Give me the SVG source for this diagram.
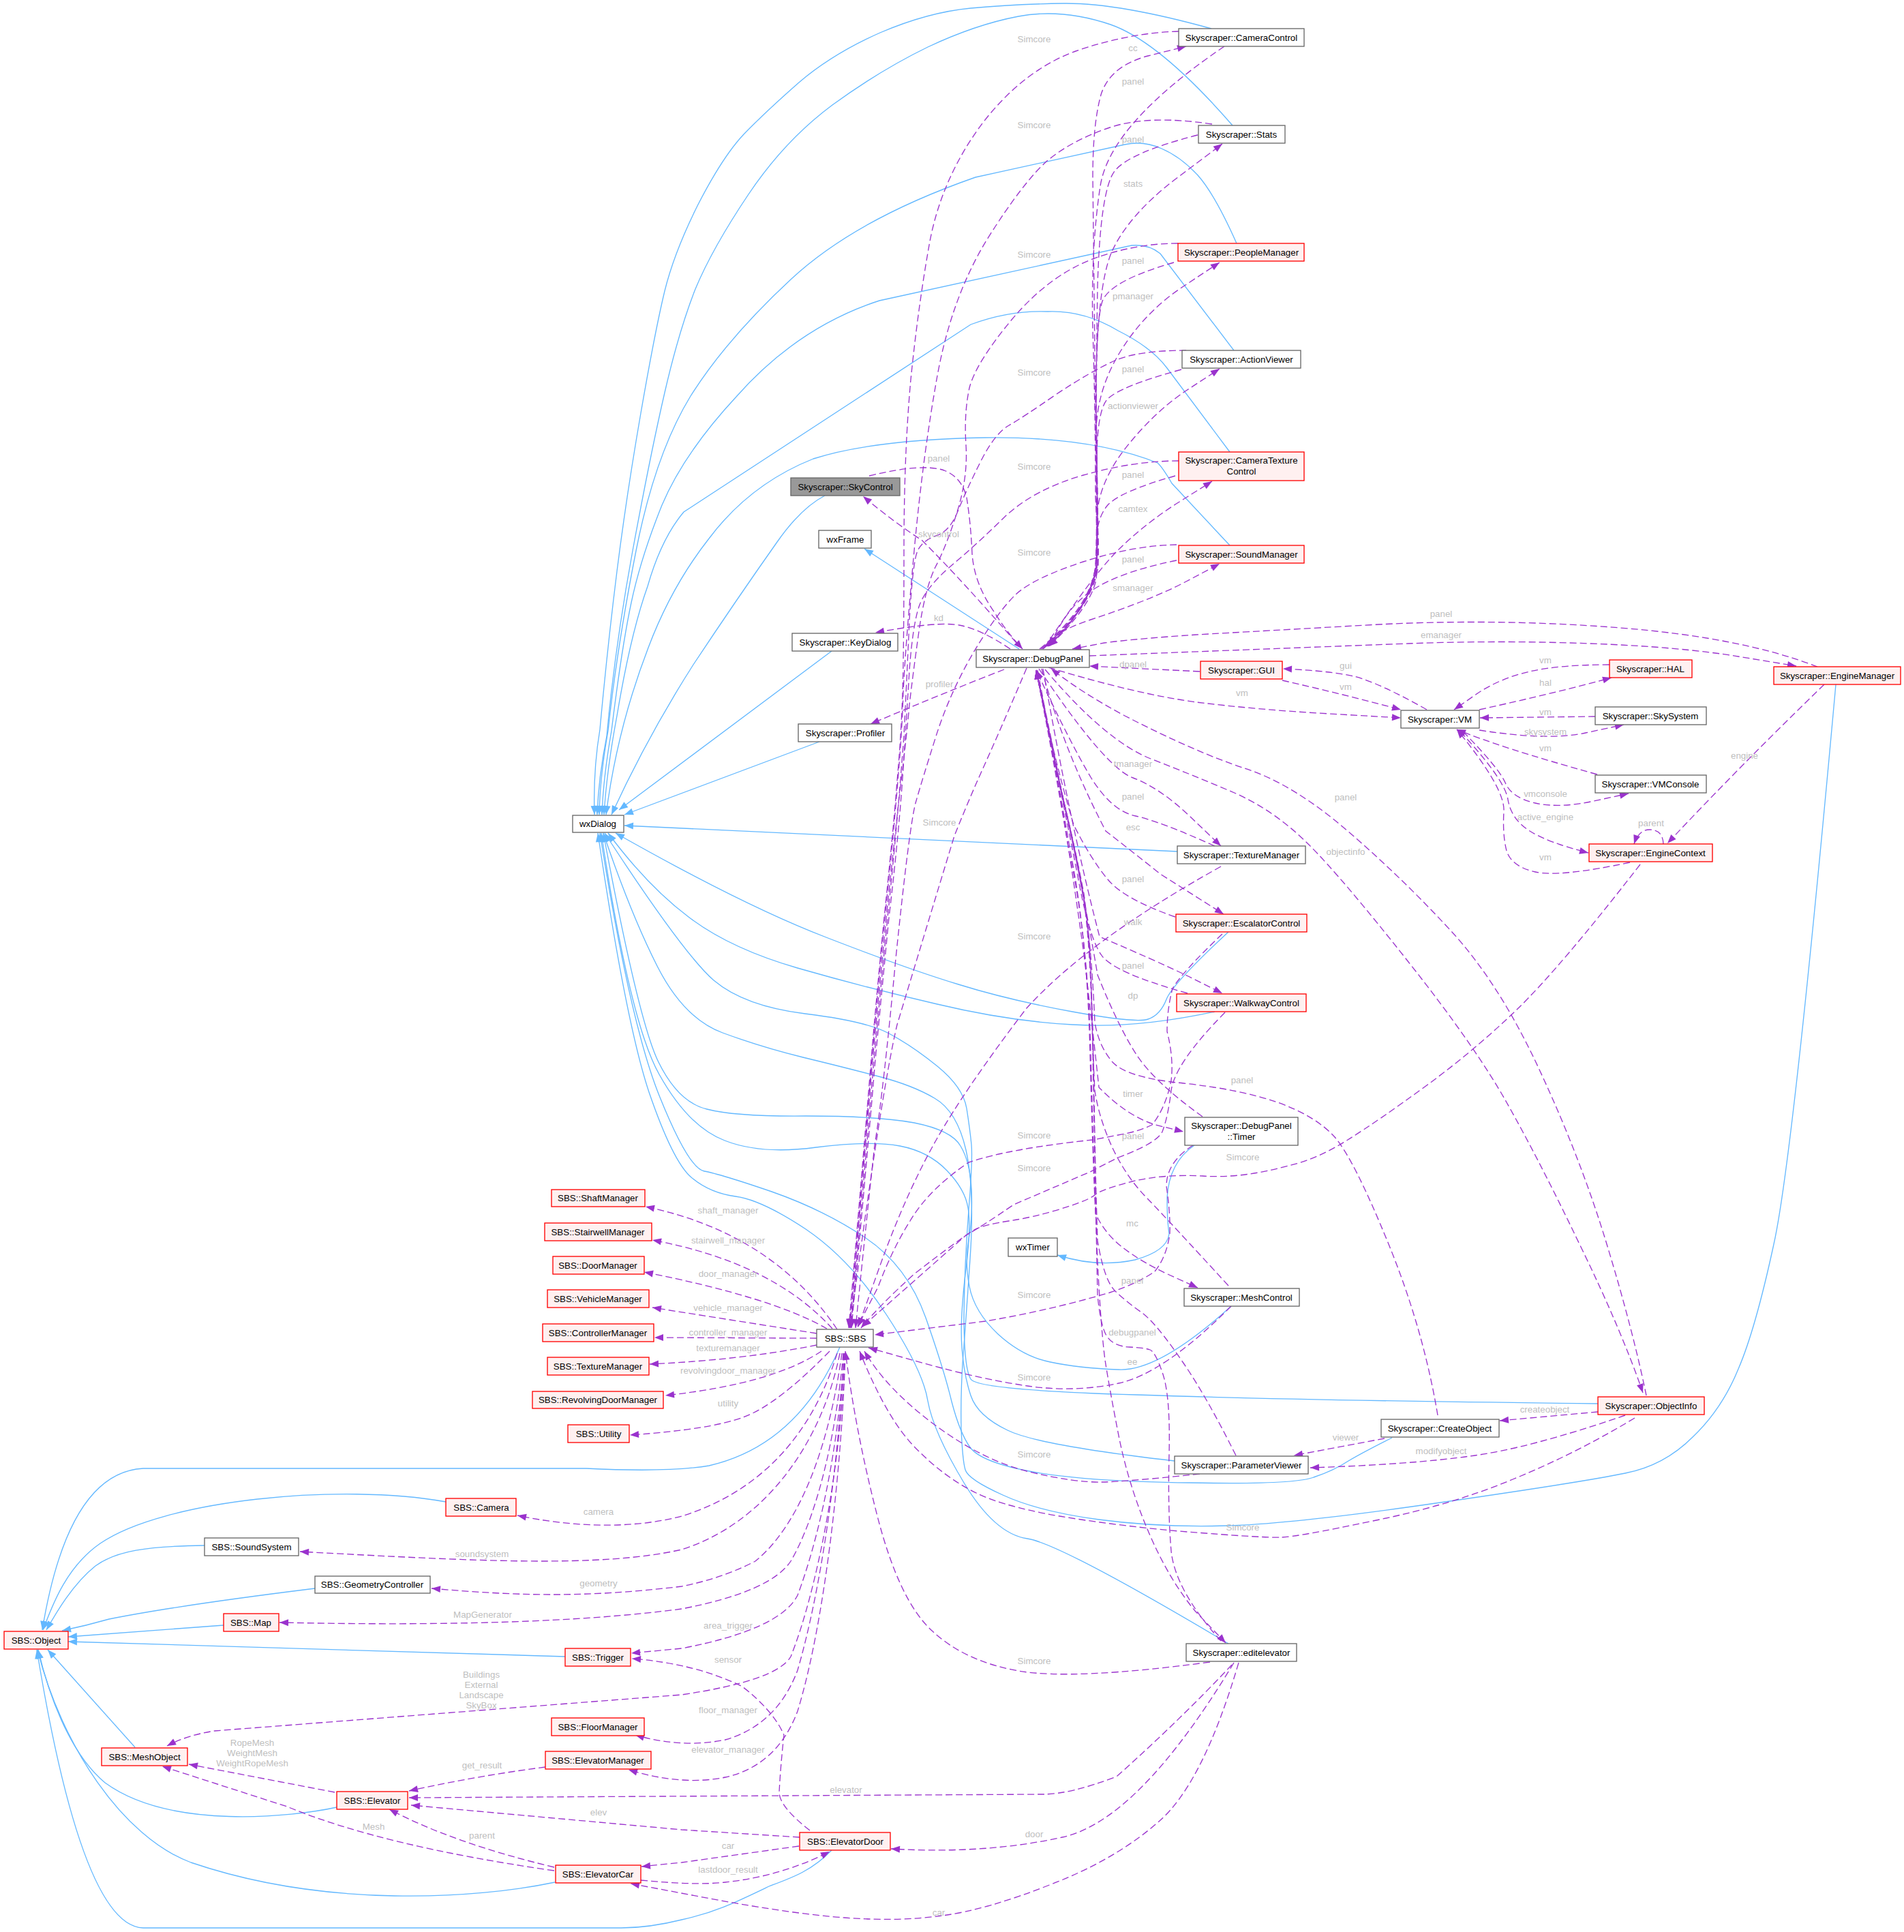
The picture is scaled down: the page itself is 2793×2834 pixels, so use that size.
<svg xmlns="http://www.w3.org/2000/svg" width="2793" height="2834" viewBox="0 0 2793 2834">
<style>
text{font-family:"Liberation Sans",Arial,sans-serif;font-size:13.33px;text-anchor:middle}
.n rect{fill:#fff;stroke:#666;stroke-width:1.33}
.r rect{fill:#fff0f0;stroke:#f00;stroke-width:1.33}
.g rect{fill:#999;stroke:#666;stroke-width:1.33}
.l text{fill:#bebebe}
.b,.p{fill:none;stroke-width:1.33}
.b{stroke:#63b8ff;marker-end:url(#ab)}
.p{stroke:#9a32cd;stroke-dasharray:10 5;marker-end:url(#ap)}
</style>
<defs>
<marker id="ab" markerUnits="userSpaceOnUse" markerWidth="16" markerHeight="12" refX="14" refY="6" orient="auto"><path d="M1,1 L14,6 L1,11z" fill="#63b8ff"/></marker>
<marker id="ap" markerUnits="userSpaceOnUse" markerWidth="16" markerHeight="12" refX="14" refY="6" orient="auto"><path d="M1,1 L14,6 L1,11z" fill="#9a32cd"/></marker>
</defs>
<rect width="2793" height="2834" fill="#fff"/>
<g id="connectors">
<path class="b" d="M1777,42 Q1640,4 1560,5 Q1487,6 1424,12 Q1361,18 1291,48 Q1221,79 1172,121 Q1123,164 1091,197 Q1060,230 1024,300 Q989,370 975,427 Q961,485 940,606 Q919,727 905,838 Q891,950 880,1070 Q870,1130 872,1195"/>
<path class="b" d="M1808,184 Q1701,61 1629,36 Q1558,12 1494,24 Q1431,36 1361,69 Q1291,103 1221,154 Q1151,206 1098,285 Q1045,364 1020,424 Q996,485 975,576 Q954,667 928,808 Q902,950 890,1080 Q878,1140 876,1195"/>
<path class="b" d="M1814,357 Q1782,285 1757,257 Q1732,230 1704,218 Q1677,206 1650,212 L1431,260 Q1256,321 1161,409 Q1066,497 1013,581 Q961,666 933,808 Q905,950 892,1072 Q880,1140 879,1195"/>
<path class="b" d="M1810,514 L1702,372 Q1685,358 1660,360 L1290,441 Q1170,480 1080,582 Q1003,665 971,741 Q940,818 926,884 Q912,950 897,1072 Q885,1140 883,1195"/>
<path class="b" d="M1804,663 L1712,540 Q1690,510 1640,485 Q1590,455 1537,457 Q1480,455 1424,476 L1003,751 Q970,790 950,860 Q925,930 905,1050 Q890,1130 886,1195"/>
<path class="b" d="M1804,800 L1719,709 Q1705,685 1698,679 Q1600,640 1445,642 Q1280,645 1193,673 Q1100,710 1040,790 Q985,860 951,950 Q905,1070 889,1195"/>
<path class="b" d="M1210,727 Q1175,745 1140,795 Q1080,880 1017,975 Q950,1080 897,1195"/>
<path class="b" d="M1220,955 L908,1188"/>
<path class="b" d="M1202,1088 L916,1195"/>
<path class="b" d="M1727,1249 L916,1211"/>
<path class="b" d="M1495,952 L1268,805"/>
<path class="b" d="M1802,1367 Q1720,1443 1711,1466 Q1702,1489 1684,1495 Q1666,1501 1573,1484 Q1480,1467 1406,1444 Q1333,1422 1212,1375 Q1092,1329 903,1222"/>
<path class="b" d="M1782,1484 Q1666,1509 1573,1503 Q1480,1498 1375,1473 Q1271,1449 1170,1420 Q1070,1391 1010,1345 Q950,1300 892,1222"/>
<path class="b" d="M2344,2059 Q1900,2054 1667,2046 Q1434,2039 1424,2023 Q1414,2007 1414,1929 Q1415,1851 1421,1775 Q1427,1700 1425,1679 Q1423,1658 1418,1626 Q1413,1595 1375,1564 Q1338,1534 1304,1516 Q1271,1498 1181,1487 Q1092,1476 1047,1438 Q1003,1400 887,1222"/>
<path class="b" d="M2693,1004 Q2630,1700 2602,1825 Q2575,1950 2550,2008 Q2526,2067 2483,2108 Q2441,2150 2384,2161 Q2327,2173 2113,2204 Q1900,2235 1801,2238 Q1702,2241 1612,2229 Q1523,2217 1471,2193 Q1420,2170 1416,2156 Q1412,2143 1410,2096 Q1409,2050 1412,2000 Q1416,1950 1423,1847 Q1430,1745 1417,1687 Q1404,1630 1371,1611 Q1339,1592 1289,1579 Q1240,1566 1178,1551 Q1117,1536 1060,1515 Q1003,1494 964,1417 Q925,1340 885,1222"/>
<path class="b" d="M1806,1916 Q1700,2012 1641,2009 Q1583,2007 1541,1998 Q1500,1990 1464,1957 Q1429,1924 1422,1887 Q1415,1851 1421,1818 Q1427,1785 1425,1744 Q1423,1704 1409,1681 Q1396,1658 1341,1647 Q1286,1637 1182,1637 Q1079,1638 1037,1627 Q995,1617 966,1558 Q937,1500 885,1222"/>
<path class="b" d="M1723,2143 Q1523,2120 1478,2098 Q1434,2077 1424,2047 Q1414,2017 1411,1977 Q1408,1938 1416,1869 Q1425,1800 1420,1772 Q1416,1745 1389,1717 Q1362,1689 1320,1681 Q1278,1673 1197,1683 Q1117,1694 1063,1673 Q1010,1653 967,1576 Q924,1500 882,1222"/>
<path class="b" d="M2042,2109 Q2000,2130 1978,2143 Q1957,2157 1927,2167 Q1898,2178 1745,2175 Q1592,2173 1515,2159 Q1439,2145 1423,2123 Q1408,2102 1396,2056 Q1385,2010 1358,1933 Q1331,1857 1270,1816 Q1209,1775 1132,1748 Q1056,1722 1033,1718 Q1010,1714 967,1607 Q924,1500 880,1222"/>
<path class="b" d="M1802,2411 Q1555,2264 1507,2257 Q1459,2250 1414,2175 Q1369,2100 1361,2055 Q1354,2010 1300,1928 Q1247,1847 1182,1803 Q1117,1760 1079,1755 Q1041,1750 1014,1727 Q987,1704 952,1602 Q918,1500 877,1222"/>
<path class="b" d="M1752,1680 Q1715,1705 1712,1757 Q1712,1790 1715,1810 Q1712,1835 1665,1848 Q1610,1860 1551,1841"/>
<path class="b" d="M1232,1976 Q1170,2120 1040,2150 Q980,2160 860,2154 L210,2154 Q100,2160 62,2391"/>
<path class="b" d="M654,2203 C500,2175 240,2200 147,2264 C95,2300 75,2360 63,2391"/>
<path class="b" d="M300,2267 C215,2268 170,2275 140,2297 C105,2325 80,2370 68,2391"/>
<path class="b" d="M462,2330 Q260,2355 160,2375 Q125,2385 91,2392"/>
<path class="b" d="M328,2384 L100,2401"/>
<path class="b" d="M829,2430 L100,2408"/>
<path class="b" d="M198,2563 L70,2420"/>
<path class="b" d="M494,2651 C430,2665 250,2685 154,2615 C100,2570 70,2480 56,2420"/>
<path class="b" d="M814,2761 C700,2785 480,2800 280,2732 C180,2695 90,2560 55,2420"/>
<path class="b" d="M1220,2714 C1190,2745 1160,2755 1128,2767 C1080,2790 1050,2805 1000,2816 C960,2826 930,2828 911,2828 L210,2828 C140,2826 90,2640 54,2420"/>

<path class="p" d="M1729,46 Q1656,48 1578,75 Q1501,103 1441,181 Q1382,260 1364,354 Q1347,448 1336,557 Q1326,666 1326,808 Q1326,950 1324,1015 Q1322,1079 1316,1145 Q1311,1212 1297,1346 Q1284,1480 1277,1566 Q1270,1653 1245,1948"/>
<path class="p" d="M1778,182 Q1684,168 1628,187 Q1572,206 1536,236 Q1501,267 1448,351 Q1396,436 1375,551 Q1354,667 1341,808 Q1328,950 1325,1015 Q1323,1079 1317,1145 Q1312,1212 1298,1346 Q1285,1480 1278,1566 Q1271,1653 1246,1948"/>
<path class="p" d="M1728,357 Q1663,357 1600,381 Q1537,406 1484,469 Q1431,533 1422,569 Q1414,606 1417,653 Q1420,700 1404,751 Q1388,802 1372,832 Q1357,863 1348,926 Q1339,990 1334,1034 Q1330,1079 1322,1145 Q1314,1212 1300,1346 Q1287,1480 1279,1566 Q1272,1653 1247,1948"/>
<path class="p" d="M1740,514 Q1670,514 1635,529 Q1600,545 1550,578 Q1501,612 1480,624 Q1459,636 1438,678 Q1417,720 1405,750 Q1393,780 1373,786 Q1353,793 1346,808 Q1339,823 1334,910 Q1330,1000 1326,1079 Q1316,1212 1302,1346 Q1289,1480 1281,1566 Q1274,1653 1248,1948"/>
<path class="p" d="M1729,676 Q1663,676 1589,697 Q1516,718 1473,759 Q1431,800 1394,831 Q1357,863 1348,890 Q1339,917 1334,983 Q1330,1050 1326,1110 Q1320,1212 1304,1346 Q1291,1480 1283,1566 Q1276,1653 1249,1948"/>
<path class="p" d="M1726,799 Q1663,800 1589,824 Q1516,848 1490,872 Q1464,897 1428,957 Q1393,1017 1373,1080 Q1353,1143 1343,1178 Q1334,1212 1314,1406 Q1296,1600 1283,1680 Q1272,1780 1255,1948"/>
<path class="p" d="M1506,980 Q1470,1065 1433,1147 Q1416,1186 1400,1226 Q1358,1364 1316,1503 Q1293,1600 1247,1948"/>
<path class="p" d="M1275,698 Q1353,679 1385,690 Q1411,700 1418,730 Q1424,767 1426,812 Q1429,857 1460,900 Q1475,925 1500,952"/>
<path class="p" d="M1491,943 Q1410,850 1353,793 Q1310,765 1266,728"/>
<path class="p" d="M1482,952 Q1439,923 1407,917 Q1376,911 1284,928"/>
<path class="p" d="M1473,982 Q1393,1013 1277,1062"/>

<path class="p" d="M1796,68 Q1628,182 1614,273 Q1600,364 1603,485 Q1607,606 1607,730 Q1610,780 1608,830 Q1600,890 1535,948"/>
<path class="p" d="M1525,952 Q1600,890 1607,830 Q1610,780 1607,606 L1603,260 Q1603,182 1615,139 Q1628,97 1684,82 L1740,68"/>
<path class="p" d="M1757,198 Q1656,224 1635,251 Q1614,279 1610,420 Q1607,606 1608,730 Q1610,780 1607,830 Q1600,890 1536,948"/>
<path class="p" d="M1527,952 Q1601,890 1609,830 Q1611,780 1608,600 Q1607,424 1631,369 Q1656,315 1724,263 L1793,211"/>
<path class="p" d="M1722,385 Q1628,412 1617,442 Q1607,473 1608,600 Q1611,780 1608,830 Q1600,890 1537,948"/>
<path class="p" d="M1529,952 Q1602,890 1610,830 Q1612,780 1608,640 Q1607,576 1642,518 Q1677,460 1733,422 L1789,385"/>
<path class="p" d="M1733,542 Q1642,567 1624,586 Q1607,606 1609,700 Q1611,780 1609,830 Q1600,890 1538,948"/>
<path class="p" d="M1530,952 Q1603,890 1611,830 Q1612,780 1609,770 Q1607,715 1649,660 Q1691,606 1740,573 L1789,541"/>
<path class="p" d="M1724,698 Q1642,721 1624,742 Q1607,763 1609,800 Q1610,830 1608,850 Q1600,890 1539,948"/>
<path class="p" d="M1532,950 Q1600,848 1638,809 Q1677,770 1727,738 L1778,706"/>
<path class="p" d="M1726,822 Q1628,842 1590,875 Q1560,900 1540,948"/>
<path class="p" d="M1534,948 Q1550,925 1600,909 Q1691,879 1740,853 L1789,827"/>

<path class="p" d="M1760,985 L1598,977"/>
<path class="p" d="M1881,998 Q1969,1018 2055,1041"/>
<path class="p" d="M2093,1041 Q2022,1001 1986,992 Q1951,984 1882,981"/>
<path class="p" d="M1538,979 Q1666,1018 1755,1030 Q1844,1041 1950,1047 L2055,1053"/>
<path class="p" d="M2415,2047 Q2395,1950 2357,1825 Q2319,1700 2259,1571 Q2200,1443 2128,1365 Q2057,1288 1977,1219 Q1897,1150 1826,1127 Q1755,1104 1650,1050 Q1585,1015 1542,981"/>
<path class="p" d="M1533,982 Q1622,1087 1688,1113 Q1755,1139 1813,1164 Q1871,1190 1920,1239 Q1969,1288 2066,1411 Q2164,1535 2210,1617 Q2257,1700 2317,1825 Q2378,1950 2410,2043"/>
<path class="p" d="M1598,962 Q1933,949 2066,944 Q2200,939 2333,944 Q2466,949 2550,963 L2635,977"/>
<path class="p" d="M2666,978 Q2555,935 2377,921 Q2200,907 2022,916 Q1844,926 1755,931 Q1666,937 1620,943 L1573,952"/>
<path class="p" d="M2361,975 Q2288,975 2244,985 Q2200,995 2166,1018 L2133,1041"/>
<path class="p" d="M2170,1041 Q2288,1015 2364,994"/>
<path class="p" d="M2340,1051 L2171,1053"/>
<path class="p" d="M2170,1071 Q2271,1087 2326,1075 L2382,1063"/>
<path class="p" d="M2343,1136 Q2199,1096 2137,1070"/>
<path class="p" d="M2146,1073 Q2199,1127 2208,1148 Q2217,1170 2252,1178 Q2288,1186 2338,1175 L2389,1164"/>
<path class="p" d="M2142,1073 Q2208,1144 2212,1173 Q2217,1202 2244,1219 Q2271,1236 2330,1251"/>
<path class="p" d="M2391,1265 Q2288,1287 2252,1279 Q2217,1271 2210,1248 Q2204,1225 2206,1190 Q2208,1156 2137,1070"/>
<path class="p" d="M2440,1238 Q2439,1217 2420,1217 Q2404,1217 2397,1238"/>
<path class="p" d="M2676,1004 Q2555,1121 2446,1237"/>

<path class="p" d="M1524,981 Q1622,1127 1662,1141 Q1702,1156 1746,1198 L1791,1241"/>
<path class="p" d="M1782,1241 Q1702,1205 1666,1197 Q1631,1190 1600,1140 Q1570,1090 1520,983"/>
<path class="p" d="M1528,981 Q1560,1100 1622,1219 Q1662,1250 1702,1282 L1795,1341"/>
<path class="p" d="M1724,1345 Q1649,1319 1625,1290 Q1600,1260 1575,1210 Q1545,1110 1520,983"/>
<path class="p" d="M1530,981 Q1570,1210 1613,1374 Q1693,1408 1743,1432 L1793,1457"/>
<path class="p" d="M1742,1457 Q1631,1426 1615,1400 Q1597,1374 1580,1280 Q1550,1130 1520,983"/>
<path class="p" d="M1764,1638 Q1694,1588 1667,1547 Q1641,1507 1610,1430 Q1590,1310 1555,1150 Q1538,1060 1520,983"/>
<path class="p" d="M1522,983 Q1560,1180 1590,1400 Q1604,1520 1612,1595 Q1653,1637 1695,1650 L1736,1660"/>

<path class="p" d="M1793,1370 Q1735,1425 1720,1450 Q1712,1480 1712,1513 Q1722,1553 1718,1585 Q1710,1625 1690,1650 Q1670,1660 1640,1665 L1603,1672 Q1480,1685 1421,1705 Q1362,1745 1335,1791 Q1309,1832 1288,1888 L1258,1946"/>
<path class="p" d="M1797,1485 Q1723,1560 1718,1600 Q1713,1640 1705,1660 Q1697,1677 1640,1698 L1599,1719 L1487,1767 Q1442,1798 1417,1812 L1265,1946"/>
<path class="p" d="M1750,1680 Q1711,1705 1711,1740 Q1717,1781 1716,1810 Q1711,1844 1694,1865 Q1670,1882 1628,1896 Q1540,1922 1446,1938 L1283,1958"/>
<path class="p" d="M1791,1271 Q1595,1380 1505,1480 Q1416,1597 1374,1671 Q1332,1745 1295,1845 L1259,1946"/>
<path class="p" d="M2406,1268 Q2288,1420 2226,1480 Q2164,1540 2093,1592 Q2022,1644 1977,1672 Q1933,1700 1890,1710 Q1821,1729 1764,1725 Q1707,1722 1661,1733 Q1615,1745 1607,1752 Q1599,1760 1557,1773 Q1515,1786 1480,1791 Q1446,1796 1431,1803 Q1416,1811 1342,1868 Q1290,1915 1263,1948"/>

<path class="p" d="M1802,1886 Q1715,1791 1684,1759 Q1653,1728 1632,1684 Q1612,1640 1606,1600 Q1603,1546 1601,1460 Q1600,1374 1589,1311 Q1578,1248 1562,1182 Q1547,1116 1520,983"/>
<path class="p" d="M1520,983 Q1547,1116 1570,1248 Q1595,1374 1599,1546 Q1603,1700 1607,1780 Q1620,1809 1647,1830 Q1674,1851 1715,1870 L1757,1889"/>
<path class="p" d="M1813,2135 Q1769,2047 1735,1998 Q1694,1938 1673,1924 Q1653,1910 1636,1894 Q1620,1879 1610,1820 Q1606,1700 1604,1546 Q1600,1374 1589,1311 Q1578,1248 1562,1182 Q1547,1116 1520,983"/>
<path class="p" d="M1791,2407 Q1724,2333 1718,2275 Q1713,2217 1715,2133 Q1717,2050 1706,2016 Q1695,1983 1687,1980 Q1679,1977 1657,1976 Q1635,1975 1625,1962 Q1615,1950 1610,1900 Q1606,1700 1603,1546 Q1600,1374 1588,1311 Q1577,1248 1561,1182 Q1546,1116 1520,983"/>
<path class="p" d="M1520,983 Q1546,1116 1568,1248 Q1596,1374 1600,1546 Q1604,1700 1610,1850 Q1615,1950 1621,1995 Q1628,2040 1642,2111 Q1657,2183 1686,2250 Q1715,2317 1753,2363 L1798,2410"/>
<path class="p" d="M2109,2076 Q2088,1950 2037,1825 Q1986,1700 1958,1668 Q1930,1637 1874,1617 Q1819,1598 1736,1589 Q1653,1581 1632,1558 Q1612,1535 1606,1500 Q1602,1400 1590,1311 Q1578,1248 1562,1182 Q1547,1116 1520,983"/>

<path class="p" d="M1806,1916 Q1707,2015 1641,2029 Q1576,2043 1507,2033 Q1439,2023 1356,2000 L1274,1977"/>
<path class="p" d="M1760,2162 Q1657,2173 1617,2174 Q1577,2175 1510,2159 Q1443,2143 1371,2090 Q1300,2037 1268,1982"/>
<path class="p" d="M2398,2080 Q2310,2133 2219,2170 Q2128,2208 2014,2231 Q1900,2255 1879,2255 Q1858,2256 1768,2249 Q1679,2243 1579,2228 Q1479,2213 1432,2190 Q1385,2167 1342,2123 Q1300,2080 1261,1982"/>
<path class="p" d="M1775,2438 Q1574,2465 1494,2451 Q1415,2437 1367,2392 Q1319,2348 1287,2224 Q1255,2100 1240,1982"/>

<path class="p" d="M1228,1950 Q1133,1809 947,1770"/>
<path class="p" d="M1221,1949 Q1133,1852 957,1819"/>
<path class="p" d="M1213,1949 Q1133,1903 945,1866"/>
<path class="p" d="M1198,1956 L957,1918"/>
<path class="p" d="M1198,1963 L960,1962"/>
<path class="p" d="M1198,1973 Q1087,1995 953,2001"/>
<path class="p" d="M1205,1982 Q1133,2030 976,2047"/>
<path class="p" d="M1217,1982 Q1140,2061 1090,2079 Q1041,2097 924,2105"/>
<path class="p" d="M1228,1985 C1190,2110 1110,2190 1000,2224 C920,2245 830,2238 759,2223"/>
<path class="p" d="M1232,1985 C1205,2120 1120,2235 1000,2273 C880,2300 700,2290 440,2276"/>
<path class="p" d="M1235,1985 C1215,2130 1170,2240 1108,2290 Q1060,2315 1000,2327 C850,2345 750,2340 633,2330"/>
<path class="p" d="M1237,1985 C1225,2120 1195,2230 1160,2290 Q1130,2335 1000,2360 C850,2380 650,2385 410,2380"/>
<path class="p" d="M1238,1985 C1230,2130 1200,2260 1170,2340 Q1145,2390 1000,2418 L926,2425"/>
<path class="p" d="M1239,1985 C1235,2140 1200,2330 1160,2430 Q1140,2465 1000,2486 L315,2539 Q275,2545 245,2561"/>
<path class="p" d="M1238,1985 C1230,2150 1205,2330 1170,2450 Q1140,2530 1064,2552 Q1000,2565 932,2545"/>
<path class="p" d="M1240,1985 C1235,2150 1210,2380 1170,2510 Q1140,2590 1064,2607 Q1000,2620 922,2596"/>
<path class="p" d="M800,2592 Q700,2605 600,2627"/>
<path class="p" d="M1807,2442 Q1733,2521 1638,2606 Q1570,2632 1529,2632 L600,2637"/>
<path class="p" d="M1173,2695 L1000,2684 L603,2648"/>
<path class="p" d="M1188,2685 Q1143,2650 1143,2629 Q1145,2590 1150,2545 Q1135,2510 1089,2474 Q1020,2440 927,2433"/>
<path class="p" d="M1172,2708 L1000,2732 L941,2738"/>
<path class="p" d="M940,2758 Q1023,2766 1064,2761 Q1147,2752 1217,2716"/>
<path class="p" d="M813,2744 Q561,2708 421,2650 L238,2591"/>
<path class="p" d="M813,2739 Q666,2704 571,2654"/>
<path class="p" d="M491,2629 L277,2588"/>
<path class="p" d="M1810,2439 Q1670,2671 1558,2695 Q1446,2720 1307,2712"/>
<path class="p" d="M1817,2439 Q1765,2615 1701,2671 Q1638,2727 1542,2764 Q1446,2802 1382,2810 Q1319,2819 1239,2813 Q1159,2807 1042,2785 L925,2763"/>
<path class="p" d="M2031,2110 L1898,2135"/>
<path class="p" d="M2384,2076 Q2242,2125 2156,2136 Q2071,2148 1922,2153"/>
<path class="p" d="M2344,2071 L2200,2084"/>
</g>
<g class="l" id="edge-labels">
<text x="1517" y="62">Simcore</text><text x="1517" y="188">Simcore</text><text x="1517" y="378">Simcore</text><text x="1517" y="551">Simcore</text><text x="1517" y="689">Simcore</text><text x="1517" y="815">Simcore</text><text x="1517" y="1378">Simcore</text><text x="1378" y="1211">Simcore</text><text x="1517" y="1670">Simcore</text><text x="1517" y="1718">Simcore</text><text x="1823" y="1702">Simcore</text><text x="1517" y="1904">Simcore</text><text x="1517" y="2025">Simcore</text><text x="1517" y="2138">Simcore</text><text x="1823" y="2245">Simcore</text><text x="1517" y="2441">Simcore</text>
<text x="1662" y="75">cc</text><text x="1662" y="124">panel</text><text x="1662" y="209">panel</text><text x="1662" y="274">stats</text><text x="1662" y="387">panel</text><text x="1662" y="439">pmanager</text><text x="1662" y="546">panel</text><text x="1662" y="600">actionviewer</text><text x="1662" y="701">panel</text><text x="1662" y="751">camtex</text><text x="1662" y="825">panel</text><text x="1662" y="867">smanager</text>
<text x="1377" y="677">panel</text><text x="1377" y="788">skycontrol</text><text x="1377" y="911">kd</text><text x="1378" y="1008">profiler</text>
<text x="1662" y="979">dpanel</text><text x="1662" y="1125">tmanager</text><text x="1662" y="1173">panel</text><text x="1662" y="1218">esc</text><text x="1662" y="1294">panel</text><text x="1662" y="1357">walk</text><text x="1662" y="1421">panel</text><text x="1662" y="1465">dp</text><text x="1662" y="1609">timer</text><text x="1662" y="1671">panel</text><text x="1822" y="1589">panel</text><text x="1822" y="1021">vm</text>
<text x="1974" y="981">gui</text><text x="1974" y="1012">vm</text><text x="1974" y="1174">panel</text><text x="1974" y="1254">objectinfo</text><text x="2114" y="905">panel</text><text x="2114" y="936">emanager</text>
<text x="2267" y="973">vm</text><text x="2267" y="1006">hal</text><text x="2267" y="1049">vm</text><text x="2267" y="1078">skysystem</text><text x="2267" y="1102">vm</text><text x="2267" y="1169">vmconsole</text><text x="2267" y="1203">active_engine</text><text x="2267" y="1262">vm</text><text x="2422" y="1212">parent</text><text x="2559" y="1113">engine</text>
<text x="1661" y="1799">mc</text><text x="1661" y="1883">panel</text><text x="1661" y="1959">debugpanel</text><text x="1661" y="2002">ee</text>
<text x="1517" y="2695">door</text><text x="1377" y="2810">car</text><text x="1241" y="2630">elevator</text><text x="2266" y="2072">createobject</text><text x="1974" y="2113">viewer</text><text x="2114" y="2133">modifyobject</text>
<text x="1068" y="2439">sensor</text><text x="1068" y="2389">area_trigger</text><text x="1068" y="2513">floor_manager</text><text x="1068" y="2571">elevator_manager</text><text x="1068" y="2712">car</text><text x="1068" y="2747">lastdoor_result</text><text x="878" y="2663">elev</text><text x="707" y="2697">parent</text><text x="548" y="2684">Mesh</text><text x="707" y="2594">get_result</text>
<text x="370" y="2561">RopeMesh</text><text x="370" y="2576">WeightMesh</text><text x="370" y="2591">WeightRopeMesh</text>
<text x="706" y="2461">Buildings</text><text x="706" y="2476">External</text><text x="706" y="2491">Landscape</text><text x="706" y="2506">SkyBox</text>
<text x="708" y="2373">MapGenerator</text><text x="878" y="2327">geometry</text><text x="707" y="2284">soundsystem</text><text x="878" y="2222">camera</text>
<text x="1068" y="1780">shaft_manager</text><text x="1068" y="1824">stairwell_manager</text><text x="1068" y="1873">door_manager</text><text x="1068" y="1923">vehicle_manager</text><text x="1068" y="1959">controller_manager</text><text x="1068" y="1982">texturemanager</text><text x="1068" y="2015">revolvingdoor_manager</text><text x="1068" y="2063">utility</text>
</g>
<g id="CameraControl" class="n"><rect x="1729" y="42" width="184" height="26"/><text x="1821" y="60">Skyscraper::CameraControl</text></g>
<g id="Stats" class="n"><rect x="1758" y="184" width="127" height="26"/><text x="1821" y="202">Skyscraper::Stats</text></g>
<g id="PeopleManager" class="r"><rect x="1728" y="357" width="185" height="26"/><text x="1821" y="375">Skyscraper::PeopleManager</text></g>
<g id="ActionViewer" class="n"><rect x="1734" y="514" width="174" height="26"/><text x="1821" y="532">Skyscraper::ActionViewer</text></g>
<g id="CameraTextureControl" class="r"><rect x="1729" y="663" width="184" height="42"/><text x="1821" y="680">Skyscraper::CameraTexture</text><text x="1821" y="696">Control</text></g>
<g id="SoundManager" class="r"><rect x="1729" y="800" width="184" height="26"/><text x="1821" y="818">Skyscraper::SoundManager</text></g>
<g id="SkyControl" class="g"><rect x="1160" y="701" width="160" height="26"/><text x="1240" y="719">Skyscraper::SkyControl</text></g>
<g id="wxFrame" class="n"><rect x="1201" y="778" width="77" height="26"/><text x="1240" y="796">wxFrame</text></g>
<g id="KeyDialog" class="n"><rect x="1162" y="929" width="155" height="26"/><text x="1240" y="947">Skyscraper::KeyDialog</text></g>
<g id="Profiler" class="n"><rect x="1171" y="1062" width="137" height="26"/><text x="1240" y="1080">Skyscraper::Profiler</text></g>
<g id="wxDialog" class="n"><rect x="840" y="1196" width="75" height="25"/><text x="877" y="1213">wxDialog</text></g>
<g id="DebugPanel" class="n"><rect x="1432" y="953" width="166" height="26"/><text x="1515" y="971">Skyscraper::DebugPanel</text></g>
<g id="GUI" class="r"><rect x="1761" y="970" width="120" height="26"/><text x="1821" y="988">Skyscraper::GUI</text></g>
<g id="VM" class="n"><rect x="2055" y="1042" width="115" height="26"/><text x="2112" y="1060">Skyscraper::VM</text></g>
<g id="HAL" class="r"><rect x="2361" y="968" width="121" height="26"/><text x="2421" y="986">Skyscraper::HAL</text></g>
<g id="EngineManager" class="r"><rect x="2602" y="978" width="186" height="26"/><text x="2695" y="996">Skyscraper::EngineManager</text></g>
<g id="SkySystem" class="n"><rect x="2340" y="1037" width="163" height="26"/><text x="2421" y="1055">Skyscraper::SkySystem</text></g>
<g id="VMConsole" class="n"><rect x="2340" y="1137" width="163" height="26"/><text x="2421" y="1155">Skyscraper::VMConsole</text></g>
<g id="EngineContext" class="r"><rect x="2331" y="1238" width="181" height="26"/><text x="2421" y="1256">Skyscraper::EngineContext</text></g>
<g id="TextureManager" class="n"><rect x="1727" y="1241" width="188" height="26"/><text x="1821" y="1259">Skyscraper::TextureManager</text></g>
<g id="EscalatorControl" class="r"><rect x="1725" y="1341" width="192" height="26"/><text x="1821" y="1359">Skyscraper::EscalatorControl</text></g>
<g id="WalkwayControl" class="r"><rect x="1726" y="1458" width="190" height="26"/><text x="1821" y="1476">Skyscraper::WalkwayControl</text></g>
<g id="DebugPanelTimer" class="n"><rect x="1738" y="1639" width="166" height="41"/><text x="1821" y="1656">Skyscraper::DebugPanel</text><text x="1821" y="1672">::Timer</text></g>
<g id="wxTimer" class="n"><rect x="1479" y="1816" width="72" height="27"/><text x="1515" y="1834">wxTimer</text></g>
<g id="MeshControl" class="n"><rect x="1737" y="1890" width="169" height="26"/><text x="1821" y="1908">Skyscraper::MeshControl</text></g>
<g id="ParameterViewer" class="n"><rect x="1723" y="2136" width="196" height="26"/><text x="1821" y="2154">Skyscraper::ParameterViewer</text></g>
<g id="CreateObject" class="n"><rect x="2026" y="2082" width="173" height="26"/><text x="2112" y="2100">Skyscraper::CreateObject</text></g>
<g id="ObjectInfo" class="r"><rect x="2344" y="2049" width="156" height="26"/><text x="2422" y="2067">Skyscraper::ObjectInfo</text></g>
<g id="editelevator" class="n"><rect x="1740" y="2411" width="162" height="26"/><text x="1821" y="2429">Skyscraper::editelevator</text></g>
<g id="SBS" class="n"><rect x="1198" y="1950" width="83" height="26"/><text x="1240" y="1968">SBS::SBS</text></g>
<g id="ShaftManager" class="r"><rect x="809" y="1745" width="137" height="25"/><text x="877" y="1762">SBS::ShaftManager</text></g>
<g id="StairwellManager" class="r"><rect x="799" y="1794" width="157" height="26"/><text x="877" y="1812">SBS::StairwellManager</text></g>
<g id="DoorManager" class="r"><rect x="811" y="1843" width="134" height="26"/><text x="877" y="1861">SBS::DoorManager</text></g>
<g id="VehicleManager" class="r"><rect x="803" y="1892" width="149" height="26"/><text x="877" y="1910">SBS::VehicleManager</text></g>
<g id="ControllerManager" class="r"><rect x="796" y="1942" width="163" height="26"/><text x="877" y="1960">SBS::ControllerManager</text></g>
<g id="SBSTextureManager" class="r"><rect x="803" y="1991" width="149" height="26"/><text x="877" y="2009">SBS::TextureManager</text></g>
<g id="RevolvingDoorManager" class="r"><rect x="781" y="2041" width="192" height="25"/><text x="877" y="2058">SBS::RevolvingDoorManager</text></g>
<g id="Utility" class="r"><rect x="833" y="2090" width="90" height="26"/><text x="878" y="2108">SBS::Utility</text></g>
<g id="Camera" class="r"><rect x="654" y="2198" width="103" height="26"/><text x="706" y="2216">SBS::Camera</text></g>
<g id="SoundSystem" class="n"><rect x="300" y="2256" width="138" height="26"/><text x="369" y="2274">SBS::SoundSystem</text></g>
<g id="GeometryController" class="n"><rect x="462" y="2312" width="169" height="25"/><text x="546" y="2329">SBS::GeometryController</text></g>
<g id="Map" class="r"><rect x="328" y="2367" width="81" height="26"/><text x="368" y="2385">SBS::Map</text></g>
<g id="Object" class="r"><rect x="6" y="2393" width="94" height="26"/><text x="53" y="2411">SBS::Object</text></g>
<g id="Trigger" class="r"><rect x="829" y="2418" width="96" height="26"/><text x="877" y="2436">SBS::Trigger</text></g>
<g id="MeshObject" class="r"><rect x="149" y="2564" width="126" height="26"/><text x="212" y="2582">SBS::MeshObject</text></g>
<g id="FloorManager" class="r"><rect x="809" y="2520" width="136" height="26"/><text x="877" y="2538">SBS::FloorManager</text></g>
<g id="ElevatorManager" class="r"><rect x="800" y="2569" width="155" height="26"/><text x="877" y="2587">SBS::ElevatorManager</text></g>
<g id="Elevator" class="r"><rect x="494" y="2628" width="104" height="26"/><text x="546" y="2646">SBS::Elevator</text></g>
<g id="ElevatorCar" class="r"><rect x="815" y="2736" width="125" height="26"/><text x="877" y="2754">SBS::ElevatorCar</text></g>
<g id="ElevatorDoor" class="r"><rect x="1173" y="2688" width="133" height="26"/><text x="1240" y="2706">SBS::ElevatorDoor</text></g>
</svg>
